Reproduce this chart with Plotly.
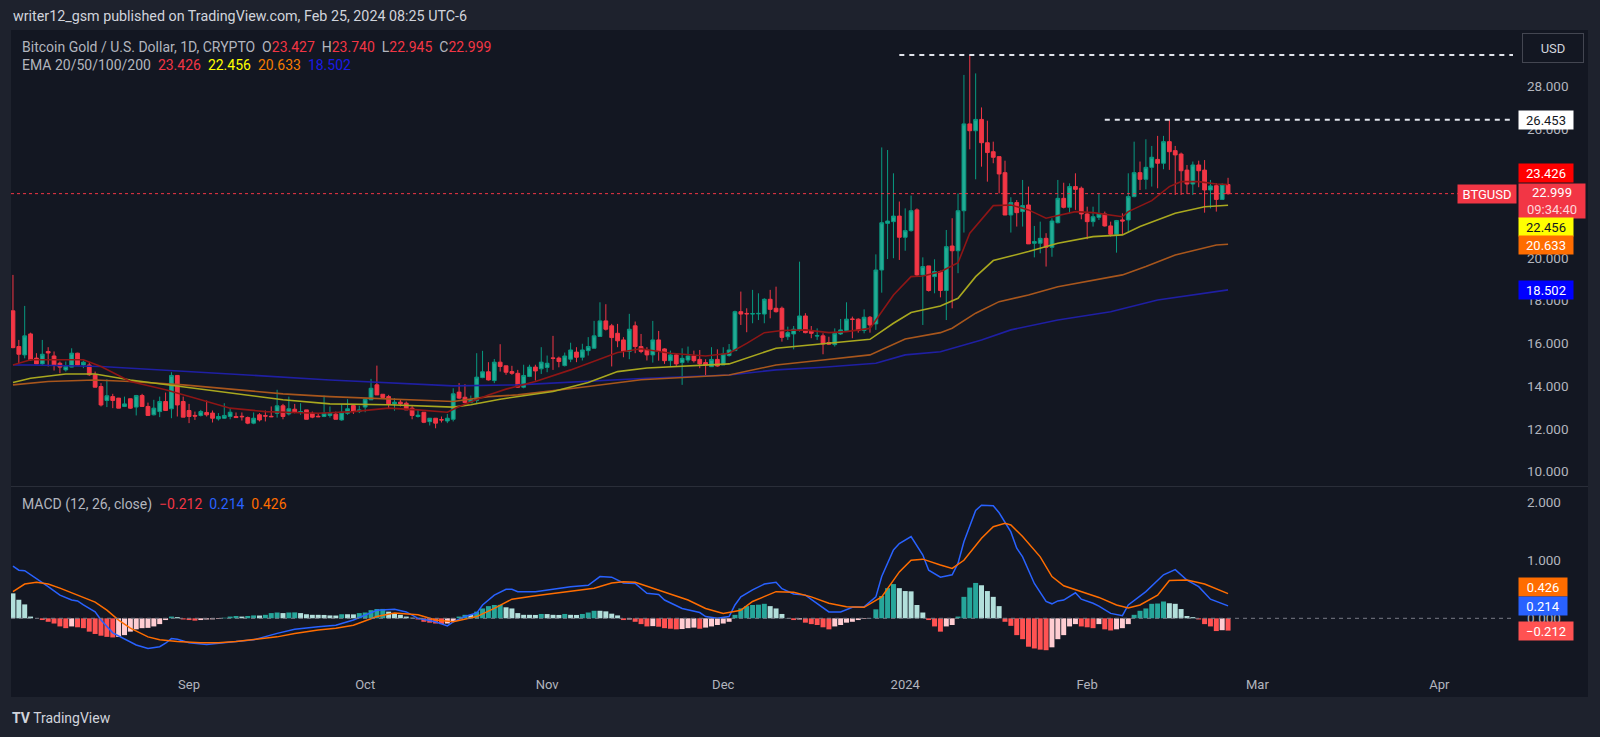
import pandas as pd
import plotly.graph_objects as go

# ---------------- data ----------------
dates = pd.date_range('2023-08-02', '2024-02-25', freq='D')

open_ = [17.52, 15.85, 15.46, 16.44, 15.31, 15.04, 15.62, 15.41, 15.07, 14.76,
         14.89, 15.54, 14.99, 14.99, 14.53, 13.98, 13.33, 13.51, 13.44, 13.05,
         13.41, 13.02, 13.56, 13.05, 12.66, 12.81, 13.28, 12.94, 14.50, 13.28,
         12.86, 12.63, 12.63, 12.77, 12.74, 12.47, 12.50, 12.58, 12.58, 12.59,
         12.53, 12.27, 12.66, 12.62, 12.59, 12.73, 13.08, 12.70, 12.92, 12.77,
         12.89, 12.73, 12.59, 12.58, 12.63, 12.69, 12.42, 12.73, 13.09, 12.81,
         13.02, 13.36, 14.06, 13.62, 13.51, 13.17, 13.25, 13.20, 12.97, 12.58,
         12.78, 12.34, 12.50, 12.43, 12.37, 12.45, 13.72, 13.48, 13.25, 13.33,
         14.40, 14.67, 14.26, 15.12, 14.95, 14.68, 14.60, 13.95, 14.45, 14.89,
         14.81, 14.87, 15.32, 15.31, 14.96, 15.26, 15.59, 15.35, 15.66, 15.77,
         16.32, 17.05, 16.82, 16.47, 16.16, 15.62, 16.82, 15.85, 15.69, 15.46,
         16.16, 15.74, 15.19, 15.46, 15.10, 15.22, 15.41, 15.25, 15.10, 14.91,
         15.25, 14.99, 15.43, 15.66, 17.48, 17.40, 17.37, 17.38, 17.37, 18.06,
         17.64, 17.64, 16.31, 16.44, 16.60, 17.28, 16.60, 16.34, 16.35, 16.04,
         15.94, 16.44, 16.60, 17.14, 17.13, 16.60, 17.22, 16.91, 19.43, 21.61,
         21.69, 21.95, 20.96, 21.27, 22.24, 19.20, 19.62, 19.12, 19.35, 18.47,
         20.55, 20.33, 22.20, 26.26, 25.94, 26.47, 25.38, 24.96, 24.73, 23.98,
         22.00, 22.58, 22.16, 22.47, 20.68, 20.68, 20.91, 20.49, 21.64, 22.78,
         22.36, 23.33, 23.25, 22.05, 21.69, 21.89, 22.05, 21.49, 21.10, 21.77,
         21.77, 22.86, 23.98, 23.67, 24.23, 24.60, 24.42, 25.43, 25.01, 24.85,
         24.10, 23.45, 24.34, 24.10, 23.17, 23.37, 22.73, 23.427]

high = [19.20, 16.16, 17.75, 16.50, 15.54, 16.16, 15.82, 15.62, 15.15, 15.15,
        15.77, 15.56, 15.20, 15.12, 14.68, 14.14, 14.32, 13.64, 13.45, 13.51,
        13.42, 13.59, 13.64, 13.23, 13.36, 13.51, 13.70, 14.65, 14.51, 13.51,
        13.17, 12.81, 12.89, 13.33, 12.86, 12.74, 13.20, 12.97, 12.77, 12.77,
        12.58, 12.77, 12.74, 12.86, 13.05, 13.83, 13.17, 13.51, 13.17, 13.20,
        12.89, 12.81, 12.74, 13.56, 13.05, 12.81, 13.16, 13.39, 13.12, 13.08,
        13.39, 14.34, 14.96, 13.62, 13.59, 13.44, 13.39, 13.28, 13.12, 12.89,
        12.78, 12.50, 12.50, 12.58, 12.70, 13.90, 14.14, 14.09, 13.56, 15.54,
        15.65, 15.12, 15.27, 15.96, 14.95, 14.95, 14.76, 15.00, 15.00, 15.00,
        15.82, 15.43, 16.35, 15.38, 15.57, 16.03, 15.82, 15.98, 16.29, 17.05,
        17.92, 17.83, 16.91, 16.91, 16.29, 17.38, 17.02, 16.44, 15.82, 17.05,
        16.58, 15.77, 15.66, 15.54, 15.77, 15.85, 15.66, 15.69, 15.26, 15.82,
        15.72, 15.82, 15.97, 17.53, 18.42, 17.64, 18.50, 18.34, 18.11, 18.50,
        18.65, 17.72, 16.78, 16.81, 19.82, 17.41, 16.81, 16.70, 16.47, 16.31,
        16.70, 17.14, 17.92, 17.25, 17.17, 17.59, 17.28, 20.16, 25.16, 25.04,
        23.95, 22.63, 22.31, 22.91, 22.31, 20.02, 19.62, 19.93, 19.40, 21.30,
        21.85, 23.01, 28.55, 29.48, 28.62, 27.03, 26.41, 25.43, 24.73, 24.54,
        22.83, 22.70, 23.64, 23.33, 21.49, 21.69, 21.15, 21.85, 23.64, 23.51,
        23.48, 23.95, 23.33, 22.39, 22.39, 23.01, 22.16, 21.69, 21.77, 22.08,
        23.95, 25.43, 24.50, 25.54, 25.23, 25.70, 25.70, 26.453, 25.23, 24.92,
        24.34, 24.50, 24.54, 24.57, 23.64, 23.48, 23.48, 23.74]

low = [15.77, 15.07, 15.30, 15.20, 15.04, 14.99, 14.92, 14.73, 14.60, 14.68,
       14.88, 14.99, 14.84, 14.48, 13.95, 13.05, 13.02, 12.97, 12.97, 13.02,
       12.94, 12.63, 13.05, 12.63, 12.63, 12.55, 12.86, 12.50, 12.58, 12.55,
       12.27, 12.42, 12.58, 12.58, 12.30, 12.39, 12.47, 12.45, 12.53, 12.39,
       12.22, 12.22, 12.35, 12.35, 12.55, 12.53, 12.45, 12.63, 12.73, 12.66,
       12.45, 12.50, 12.55, 12.55, 12.53, 12.45, 12.38, 12.66, 12.70, 12.74,
       12.78, 13.36, 13.59, 13.44, 12.97, 12.85, 13.05, 12.89, 12.45, 12.53,
       12.27, 12.16, 12.03, 12.30, 12.27, 12.35, 13.39, 13.20, 13.20, 13.17,
       14.37, 14.26, 14.14, 14.68, 14.53, 14.53, 13.93, 13.90, 14.42, 14.26,
       14.57, 14.65, 14.76, 14.88, 14.92, 15.12, 15.12, 15.20, 15.43, 15.77,
       16.32, 16.60, 14.92, 15.82, 15.35, 15.26, 15.54, 15.54, 15.20, 15.10,
       15.19, 15.04, 14.91, 14.91, 14.06, 15.10, 15.10, 14.84, 14.52, 14.91,
       14.91, 14.99, 15.38, 15.66, 16.86, 16.52, 16.94, 17.09, 16.94, 17.17,
       17.44, 16.08, 16.16, 15.72, 16.55, 16.47, 16.24, 16.16, 15.49, 15.92,
       15.85, 16.39, 16.60, 16.24, 16.50, 16.47, 16.50, 16.63, 18.37, 19.94,
       19.98, 19.90, 20.33, 21.22, 19.12, 16.86, 18.42, 18.34, 18.15, 17.09,
       17.64, 19.28, 21.18, 25.07, 23.67, 24.26, 23.56, 24.42, 23.01, 22.00,
       21.18, 21.46, 21.46, 20.65, 20.02, 20.21, 19.59, 20.05, 21.61, 22.31,
       22.08, 22.24, 21.80, 20.87, 21.46, 21.77, 21.46, 20.99, 20.24, 21.11,
       21.18, 22.83, 23.17, 23.20, 23.33, 23.25, 24.14, 24.11, 22.94, 22.94,
       22.98, 22.94, 23.30, 22.11, 22.31, 22.16, 22.70, 22.945]

close = [15.80, 15.49, 16.35, 15.23, 15.04, 15.49, 15.55, 14.99, 14.89, 14.92,
         15.54, 14.99, 15.12, 14.53, 13.95, 13.12, 13.55, 13.33, 12.97, 13.17,
         12.97, 13.56, 13.05, 12.63, 12.97, 13.28, 12.86, 14.50, 13.12, 12.55,
         12.58, 12.60, 12.81, 12.66, 12.50, 12.58, 12.63, 12.78, 12.53, 12.57,
         12.27, 12.50, 12.42, 12.60, 12.57, 13.08, 12.58, 12.94, 12.77, 12.81,
         12.45, 12.55, 12.57, 12.73, 12.73, 12.45, 12.78, 12.94, 12.81, 12.89,
         13.39, 13.90, 13.59, 13.47, 13.17, 13.25, 13.17, 12.89, 12.63, 12.64,
         12.31, 12.50, 12.27, 12.42, 12.50, 13.64, 13.44, 13.23, 13.36, 14.42,
         14.67, 14.29, 15.12, 14.92, 14.65, 14.60, 13.95, 14.50, 14.89, 14.71,
         15.12, 15.07, 15.30, 15.15, 15.41, 15.69, 15.35, 15.69, 15.85, 16.35,
         17.05, 16.66, 16.27, 16.12, 15.62, 16.66, 15.85, 15.62, 15.46, 16.16,
         15.62, 15.19, 15.46, 15.04, 15.30, 15.41, 15.19, 15.04, 14.99, 15.25,
         14.94, 15.50, 15.69, 17.48, 17.37, 17.38, 17.39, 17.40, 18.06, 17.59,
         17.48, 16.28, 16.50, 16.66, 17.28, 16.50, 16.47, 16.36, 15.97, 15.96,
         16.47, 16.63, 17.13, 17.12, 16.60, 17.22, 16.86, 19.43, 21.64, 21.72,
         21.95, 20.96, 21.27, 22.20, 19.20, 19.59, 18.47, 19.36, 18.47, 20.52,
         20.33, 22.20, 26.26, 25.94, 26.47, 25.38, 24.92, 24.70, 23.92, 22.00,
         22.58, 22.11, 22.44, 20.65, 20.76, 20.91, 20.49, 21.72, 22.78, 22.36,
         23.33, 23.20, 22.05, 21.69, 21.92, 22.05, 21.49, 21.10, 21.74, 21.72,
         22.86, 23.98, 23.67, 24.23, 24.70, 24.42, 25.43, 24.96, 24.81, 24.07,
         23.45, 24.34, 24.07, 23.17, 23.36, 22.73, 23.43, 22.999]

# EMA readings (candle number -> value)
ema20_idx = [1, 4, 13, 16, 21, 27, 33, 38, 44, 53, 59, 65, 70, 75, 77, 82, 85, 90, 96, 102, 104, 108,
             113, 119, 123, 126, 129, 132, 136, 140, 143, 147, 151, 154, 156, 159, 162, 164, 168, 171,
             174, 177, 179, 182, 185, 190, 191, 195, 198, 200, 203, 206, 208]
ema20_val = [14.99, 15.23, 15.23, 14.92, 14.22, 13.83, 13.36, 12.97, 12.81, 12.73, 12.81, 12.97, 12.89,
             12.78, 13.05, 13.59, 13.86, 14.22, 14.76, 15.38, 15.57, 15.75, 15.54, 15.41, 15.54, 16.0,
             16.5, 16.6, 16.63, 16.5, 16.55, 16.70, 18.26, 19.12, 19.15, 19.35, 19.77, 21.15, 22.44,
             22.47, 22.24, 21.85, 21.96, 22.16, 22.11, 21.92, 22.16, 22.67, 23.33, 23.56, 23.56, 23.45,
             23.426]
ema50_idx = [1, 4, 10, 15, 21, 30, 38, 47, 55, 65, 76, 79, 84, 93, 99, 104, 109, 113, 119, 123, 131,
             139, 147, 151, 154, 159, 162, 165, 168, 174, 179, 185, 190, 193, 199, 204, 208]
ema50_val = [14.17, 14.37, 14.57, 14.57, 14.29, 13.98, 13.67, 13.36, 13.17, 13.13, 13.02, 13.13, 13.39,
             13.75, 14.17, 14.68, 14.85, 14.91, 14.99, 15.04, 15.77, 15.97, 16.19, 16.94, 17.44, 17.75,
             18.11, 19.12, 19.87, 20.29, 20.68, 20.99, 21.07, 21.46, 22.08, 22.39, 22.456]
ema100_idx = [1, 7, 15, 21, 30, 38, 47, 55, 65, 76, 82, 87, 99, 108, 123, 131, 139, 147, 153, 159, 161,
              165, 169, 174, 179, 185, 190, 194, 199, 206, 208]
ema100_val = [14.06, 14.22, 14.29, 14.22, 14.06, 13.86, 13.64, 13.51, 13.39, 13.28, 13.51, 13.59, 13.98,
              14.30, 14.52, 14.99, 15.22, 15.46, 16.20, 16.50, 16.71, 17.41, 17.95, 18.26, 18.65, 18.96,
              19.20, 19.59, 20.13, 20.60, 20.633]
ema200_idx = [1, 4, 16, 27, 38, 55, 65, 76, 87, 99, 109, 123, 131, 139, 148, 153, 159, 166, 171, 179,
              188, 196, 208]
ema200_val = [14.99, 14.99, 14.92, 14.76, 14.57, 14.29, 14.17, 14.01, 14.06, 14.22, 14.37, 14.52, 14.76,
              14.88, 15.07, 15.46, 15.61, 16.16, 16.63, 17.09, 17.48, 18.03, 18.502]

# MACD readings
macd_idx = [1, 2, 3, 5, 7, 9, 11, 12, 13, 15, 16, 18, 20, 22, 24, 26, 27, 28, 29, 31, 34, 36, 39, 42,
            46, 49, 53, 56, 59, 63, 66, 68, 70, 73, 75, 76, 78, 80, 81, 83, 85, 86, 87, 90, 93, 96, 99,
            101, 103, 104, 105, 107, 109, 111, 112, 115, 118, 119, 121, 123, 124, 125, 127, 129, 131,
            132, 134, 136, 138, 140, 142, 144, 146, 148, 149, 151, 152, 154, 156, 157, 159, 161, 162,
            163, 165, 166, 168, 169, 171, 172, 173, 175, 177, 178, 179, 180, 182, 183, 185, 186, 188,
            190, 191, 194, 197, 199, 201, 203, 205, 208]
macd_val = [0.90, 0.83, 0.82, 0.69, 0.545, 0.40, 0.315, 0.30, 0.23, 0.11, -0.03, -0.25, -0.36, -0.46,
            -0.52, -0.49, -0.43, -0.35, -0.36, -0.42, -0.45, -0.43, -0.41, -0.37, -0.26, -0.19, -0.145,
            -0.12, -0.03, 0.14, 0.155, 0.11, 0.0, -0.06, -0.13, -0.06, 0.03, 0.09, 0.23, 0.40, 0.50,
            0.50, 0.46, 0.46, 0.50, 0.545, 0.57, 0.72, 0.71, 0.66, 0.61, 0.60, 0.43, 0.41, 0.315, 0.17,
            0.10, 0.03, 0.0, 0.03, 0.23, 0.37, 0.49, 0.59, 0.62, 0.51, 0.42, 0.40, 0.26, 0.11, 0.11,
            0.19, 0.20, 0.37, 0.72, 1.18, 1.29, 1.41, 1.09, 0.83, 0.71, 0.75, 0.95, 1.32, 1.86, 1.95,
            1.94, 1.82, 1.49, 1.21, 1.06, 0.60, 0.29, 0.25, 0.30, 0.315, 0.44, 0.33, 0.26, 0.21, 0.085,
            0.045, 0.23, 0.46, 0.75, 0.84, 0.66, 0.545, 0.33, 0.214]
signal_idx = [1, 3, 5, 7, 9, 12, 15, 17, 19, 21, 24, 26, 29, 33, 36, 39, 42, 46, 49, 53, 56, 59, 63,
              66, 70, 73, 76, 80, 83, 86, 90, 93, 96, 100, 103, 105, 107, 111, 116, 119, 122, 125, 127,
              131, 134, 137, 140, 143, 146, 149, 152, 154, 156, 159, 161, 163, 166, 168, 170, 171, 173,
              176, 178, 180, 183, 186, 189, 191, 193, 196, 198, 201, 204, 208]
signal_val = [0.46, 0.59, 0.62, 0.59, 0.52, 0.40, 0.28, 0.14, -0.03, -0.17, -0.32, -0.37, -0.40, -0.42,
              -0.42, -0.40, -0.37, -0.32, -0.26, -0.20, -0.17, -0.12, 0.03, 0.09, 0.06, -0.03, -0.06,
              0.03, 0.17, 0.33, 0.39, 0.43, 0.47, 0.52, 0.61, 0.63, 0.62, 0.49, 0.315, 0.17, 0.085, 0.14,
              0.29, 0.46, 0.45, 0.37, 0.26, 0.20, 0.19, 0.37, 0.80, 1.00, 1.02, 0.92, 0.86, 1.00, 1.38,
              1.58, 1.64, 1.61, 1.41, 1.06, 0.72, 0.56, 0.46, 0.36, 0.23, 0.18, 0.23, 0.40, 0.65, 0.66,
              0.59, 0.426]
hist = [0.43, 0.32, 0.24, 0.03, 0.0, -0.03, -0.06, -0.09, -0.14, -0.17,
        -0.14, -0.155, -0.17, -0.23, -0.27, -0.30, -0.32, -0.33, -0.32, -0.29,
        -0.23, -0.19, -0.17, -0.165, -0.14, -0.10, -0.03, 0.03, 0.02, -0.02,
        -0.03, -0.04, -0.03, -0.02, -0.018, -0.01, 0.01, 0.03, 0.04, 0.03,
        0.04, 0.05, 0.048, 0.06, 0.09, 0.10, 0.09, 0.10, 0.102, 0.09,
        0.07, 0.06, 0.06, 0.058, 0.05, 0.048, 0.07, 0.07, 0.068, 0.09,
        0.10, 0.14, 0.16, 0.162, 0.115, 0.075, 0.06, 0.03, 0.01, -0.02,
        -0.06, -0.075, -0.09, -0.10, -0.09, -0.06, 0.03, 0.06, 0.058, 0.115,
        0.17, 0.21, 0.23, 0.232, 0.19, 0.17, 0.09, 0.06, 0.06, 0.058,
        0.075, 0.073, 0.06, 0.058, 0.075, 0.06, 0.058, 0.075, 0.10, 0.13,
        0.13, 0.12, 0.08, 0.05, -0.03, -0.02, -0.06, -0.10, -0.14, -0.135,
        -0.145, -0.17, -0.18, -0.19, -0.185, -0.17, -0.16, -0.18, -0.16, -0.14,
        -0.115, -0.09, -0.06, 0.06, 0.17, 0.21, 0.23, 0.235, 0.25, 0.21,
        0.17, 0.075, 0.005, -0.03, -0.02, -0.075, -0.10, -0.115, -0.155, -0.19,
        -0.14, -0.115, -0.075, -0.06, -0.03, -0.01, 0.005, 0.155, 0.385, 0.52,
        0.59, 0.52, 0.47, 0.465, 0.23, 0.10, -0.03, -0.14, -0.23, -0.14,
        -0.115, 0.03, 0.37, 0.53, 0.61, 0.57, 0.47, 0.37, 0.21, -0.06,
        -0.13, -0.29, -0.36, -0.49, -0.52, -0.54, -0.55, -0.50, -0.36, -0.29,
        -0.14, -0.10, -0.14, -0.155, -0.17, -0.10, -0.19, -0.21, -0.19, -0.17,
        -0.10, 0.06, 0.13, 0.17, 0.25, 0.255, 0.29, 0.26, 0.25, 0.16,
        0.04, 0.02, -0.02, -0.10, -0.14, -0.22, -0.205, -0.212]

price_ticks = [10, 12, 14, 16, 18, 20, 22, 24, 26, 28]
macd_ticks = [0, 1, 2]
month_ticks = ['2023-09-01', '2023-10-01', '2023-11-01', '2023-12-01', '2024-01-01',
               '2024-02-01', '2024-03-01', '2024-04-01']
month_labels = ['Sep', 'Oct', 'Nov', 'Dec', '2024', 'Feb', 'Mar', 'Apr']

assert len(dates) == len(open_) == len(high) == len(low) == len(close) == len(hist) == 208

# ---------------- layout geometry ----------------
W, H = 1600, 737
ML, MR, MT, MB = 11, 87, 30, 68
PW, PH = W - ML - MR, H - MT - MB
BG = '#131722'
TXT = '#b2b5be'
FONT = 'Roboto'


def px(x):
    return (x - ML) / PW


def py(y):
    return (H - MB - y) / PH


x_start = pd.Timestamp('2023-08-01 16:00')
x_end = pd.Timestamp('2024-04-13 13:00')
price_range = [9.331, 30.65]
macd_range = [-0.874, 2.264]


def pick(idx):
    return [dates[i - 1] for i in idx]


fig = go.Figure()

fig.add_trace(go.Candlestick(
    x=dates, open=open_, high=high, low=low, close=close,
    xaxis='x', yaxis='y',
    increasing=dict(line=dict(color='#089981', width=1), fillcolor='#22ab94'),
    decreasing=dict(line=dict(color='#f23645', width=1), fillcolor='#f23645'),
    whiskerwidth=0, showlegend=False, hoverinfo='skip'))

for idx, val, col in [(ema200_idx, ema200_val, '#1f1fa3'),
                      (ema100_idx, ema100_val, '#a8561c'),
                      (ema50_idx, ema50_val, '#a9a81f'),
                      (ema20_idx, ema20_val, '#8e1616')]:
    fig.add_trace(go.Scatter(x=pick(idx), y=val, mode='lines', xaxis='x', yaxis='y',
                             line=dict(color=col, width=1.6), showlegend=False, hoverinfo='skip'))

# MACD histogram colours from rising / falling
hcol = []
for i, v in enumerate(hist):
    prev = hist[i - 1] if i > 0 else v
    if v >= 0:
        hcol.append('#26a69a' if v > prev else '#b2dfdb')
    else:
        hcol.append('#ff5252' if v < prev else '#ffcdd2')

fig.add_trace(go.Bar(x=dates, y=hist, xaxis='x', yaxis='y2', marker=dict(color=hcol, line=dict(width=0)),
                     showlegend=False, hoverinfo='skip'))
fig.add_trace(go.Scatter(x=pick(macd_idx), y=macd_val, mode='lines', xaxis='x', yaxis='y2',
                         line=dict(color='#2962ff', width=1.5), showlegend=False, hoverinfo='skip'))
fig.add_trace(go.Scatter(x=pick(signal_idx), y=signal_val, mode='lines', xaxis='x', yaxis='y2',
                         line=dict(color='#ff6d00', width=1.5), showlegend=False, hoverinfo='skip'))

shapes = [
    dict(type='rect', xref='paper', yref='paper', x0=px(11), x1=px(1588), y0=py(697), y1=py(30),
         fillcolor=BG, line=dict(width=0), layer='below'),
    dict(type='line', xref='paper', yref='paper', x0=px(11), x1=px(1588), y0=py(486.5), y1=py(486.5),
         line=dict(color='#2a2e39', width=1)),
    dict(type='line', xref='x', yref='y', x0='2023-12-31', x1=x_end, y0=max(high), y1=max(high),
         line=dict(color='#e0e3eb', width=2, dash='5px,5px')),
    dict(type='line', xref='x', yref='y', x0='2024-02-04', x1=x_end, y0=high[197], y1=high[197],
         line=dict(color='#e0e3eb', width=2, dash='5px,5px')),
    dict(type='line', xref='x', yref='y', x0=x_start, x1=x_end, y0=close[-1], y1=close[-1],
         line=dict(color='#f23645', width=1, dash='dot')),
    dict(type='line', xref='x', yref='y2', x0=x_start, x1=x_end, y0=0, y1=0,
         line=dict(color='#787b86', width=1, dash='4px,4px')),
]

ann = []
ann.append(dict(text='writer12_gsm published on TradingView.com, Feb 25, 2024 08:25 UTC-6',
                xref='paper', yref='paper', x=px(11), y=py(16), xanchor='left', yanchor='middle',
                showarrow=False, font=dict(family=FONT, size=14.3, color='#d1d4dc')))
red = '#f23645'
leg1 = ('Bitcoin Gold / U.S. Dollar, 1D, CRYPTO  '
        f'O<span style="color:{red}">{open_[-1]:.3f}</span>  H<span style="color:{red}">{high[-1]:.3f}</span>  '
        f'L<span style="color:{red}">{low[-1]:.3f}</span>  C<span style="color:{red}">{close[-1]:.3f}</span>')
ann.append(dict(text=leg1, xref='paper', yref='paper', x=px(20), y=py(46.5), xanchor='left',
                yanchor='middle', showarrow=False, font=dict(family=FONT, size=14, color='#b2b5be')))
leg2 = ('EMA 20/50/100/200  '
        f'<span style="color:#f23645">{ema20_val[-1]:.3f}</span>  '
        f'<span style="color:#ffff00">{ema50_val[-1]:.3f}</span>  '
        f'<span style="color:#f57c00">{ema100_val[-1]:.3f}</span>  '
        f'<span style="color:#1a1ae6">{ema200_val[-1]:.3f}</span>')
ann.append(dict(text=leg2, xref='paper', yref='paper', x=px(20), y=py(65), xanchor='left',
                yanchor='middle', showarrow=False, font=dict(family=FONT, size=14, color='#b2b5be')))
leg3 = ('MACD (12, 26, close)  '
        f'<span style="color:#f23645">{hist[-1]:.3f}</span>  '
        f'<span style="color:#2962ff">{macd_val[-1]:.3f}</span>  '
        f'<span style="color:#ff6d00">{signal_val[-1]:.3f}</span>').replace('-0.212', '\u22120.212')
ann.append(dict(text=leg3, xref='paper', yref='paper', x=px(20), y=py(504), xanchor='left',
                yanchor='middle', showarrow=False, font=dict(family=FONT, size=14, color='#b2b5be')))
ann.append(dict(text='<b>TV</b> TradingView', xref='paper', yref='paper', x=px(10), y=py(718),
                xanchor='left', yanchor='middle', showarrow=False,
                font=dict(family=FONT, size=14, color='#d1d4dc')))
ann.append(dict(text='USD', xref='paper', yref='paper', x=px(1553), y=py(48.5), xanchor='center',
                yanchor='middle', showarrow=False, width=52, height=20, borderpad=4, bgcolor=BG,
                bordercolor='#434651', borderwidth=1, font=dict(family=FONT, size=13, color='#d1d4dc')))


def box(text, yval, yref, bg, fg, yshift=0, width=50, height=14, x=1518, anchor='left'):
    ann.append(dict(text=text, xref='paper', yref=yref, x=px(x), y=yval, xanchor=anchor,
                    yanchor='middle', yshift=yshift, showarrow=False, width=width, height=height,
                    borderpad=2, bgcolor=bg, font=dict(family=FONT, size=13, color=fg), align='center'))


box(f'{high[197]:.3f}', high[197], 'y', '#ffffff', '#131722')
box(f'{ema20_val[-1]:.3f}', ema20_val[-1], 'y', '#ff0000', '#ffffff', yshift=11.5)
box(f'{close[-1]:.3f}<br><span style="color:#ffd6da">09:34:40</span>', close[-1], 'y', '#f23645',
    '#ffffff', yshift=-7.4, width=62, height=30)
box(f'{ema50_val[-1]:.3f}', ema50_val[-1], 'y', '#ffff00', '#131722', yshift=-22.2)
box(f'{ema100_val[-1]:.3f}', ema100_val[-1], 'y', '#ff6d00', '#ffffff', yshift=-1.2)
box(f'{ema200_val[-1]:.3f}', ema200_val[-1], 'y', '#0000ff', '#ffffff')
box('BTGUSD', close[-1], 'y', '#f23645', '#ffffff', width=54, x=1517, anchor='right')
box(f'{signal_val[-1]:.3f}', signal_val[-1], 'y2', '#ff6d00', '#ffffff', yshift=6.6, width=44)
box(f'{macd_val[-1]:.3f}', macd_val[-1], 'y2', '#2962ff', '#ffffff', width=44)
box(f'\u2212{abs(hist[-1]):.3f}', hist[-1], 'y2', '#ff5252', '#ffffff', width=50)

fig.update_layout(
    width=W, height=H, margin=dict(l=ML, r=MR, t=MT, b=MB),
    paper_bgcolor='#1e222d', plot_bgcolor=BG, showlegend=False,
    bargap=0.15, boxgap=0.08,
    xaxis=dict(type='date', range=[x_start, x_end], anchor='y2', showgrid=False, zeroline=False,
               showline=False, rangeslider=dict(visible=False), tickvals=month_ticks,
               ticktext=month_labels, ticks='', tickfont=dict(family=FONT, size=13, color=TXT),
               ticklabelstandoff=6),
    yaxis=dict(domain=[py(486), 1], range=price_range, side='right', anchor='x', showgrid=False,
               zeroline=False, showline=False, tickvals=price_ticks,
               ticktext=[f'{v:.3f}' for v in price_ticks], ticks='',
               tickfont=dict(family=FONT, size=13.5, color=TXT), ticklabelstandoff=13),
    yaxis2=dict(domain=[0, py(487)], range=macd_range, side='right', anchor='x', showgrid=False,
                zeroline=False, showline=False, tickvals=macd_ticks,
                ticktext=[f'{v:.3f}' for v in macd_ticks], ticks='',
                tickfont=dict(family=FONT, size=13.5, color=TXT), ticklabelstandoff=13),
    shapes=shapes, annotations=ann,
)

fig.write_html('out.html', config={'displayModeBar': False, 'staticPlot': True},
               post_script="document.body.style.margin='0';document.body.style.overflow='hidden';"
                           "document.body.style.background='#1e222d';")
